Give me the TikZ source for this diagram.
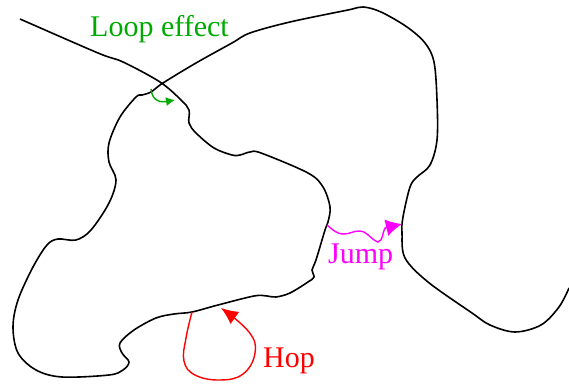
\documentclass[tikz,border=0pt]{standalone}
\usepackage{fontspec}
\setmainfont{Liberation Serif}
\usetikzlibrary{arrows.meta}
\definecolor{loopgreen}{RGB}{0,170,0}
\definecolor{jumpmag}{RGB}{255,0,255}
\definecolor{hopred}{RGB}{255,0,0}

\begin{document}
\begin{tikzpicture}[x=1pt,y=1pt,
    walk/.style={line width=1.6pt,black,line join=round},
    move/.style={line width=1.4pt},
    lbl/.style={font=\fontsize{30}{36}\selectfont,inner sep=0pt,anchor=base west}
  ]
    \useasboundingbox (0,0) rectangle (569,383);

    % Path of the walk
    \draw[walk] plot[smooth,tension=0.55] coordinates {
      (20,364) (98,330) (123,321) (160,301) (181,283) (189,273) (189,260)
      (196,250) (214,235) (232,228) (240,228) (250,231) (261,230) (308,210)
      (323,196) (330,176) (328,161) (325,153) (316,123) (312,113) (314,106)
      (308,101) (290,90) (276,86) (267,87) (254,87) (218,78) (192,71)
      (174,69) (156,65) (134,53) (120,40) (122,30) (129,21) (123,13)
      (109,8) (62,6) (36,13) (18,30) (13,56) (18,83) (33,116) (47,138)
      (58,144) (76,143) (91,153) (109,180) (116,203) (109,221) (109,240)
      (120,266) (136,286) (142,288) (151,291) (163,300) (196,320) (232,340)
      (250,350) (290,361) (348,373) (363,376) (381,371) (407,356) (425,340)
      (434,321) (437,283) (437,243) (430,218) (417,206) (410,196) (403,166)
      (402,150) (405,125) (428,101) (472,70) (490,58) (515,51) (541,58)
      (559,76) (569,95)};

    % Loop effect
    \coordinate (la) at (151,294);
    \coordinate (lb) at (175,283);
    \draw[move,loopgreen,-{Latex[length=9pt,width=9pt]}] (la) .. controls (152,284) and (158,280) .. (lb);
    \node[lbl,text=loopgreen] (loop) at (90,346) {Loop effect};

    % Jump
    \coordinate (ja) at (327,158);
    \coordinate (jb) at (402,159);
    \draw[move,jumpmag,-{Latex[length=16pt,width=17pt]}] (ja)
      to[out=-40,in=180] (344,149) to[out=0,in=180] (359,152)
      to[out=0,in=160] (378,141) to[out=20,in=-120] (385,155) -- (jb);
    \node[lbl,text=jumpmag] (jump) at (328,120) {Jump};

    % Hop
    \coordinate (ha) at (192,71);
    \coordinate (hb) at (221,75);
    \draw[move,hopred,-{Latex[length=17pt,width=15pt]}] plot[smooth,tension=0.7] coordinates {
      (ha) (186,45) (184,22) (195,8) (220,3) (243,9) (255,30) (249,51) (hb)};
    \node[lbl,text=hopred] (hop) at (263,16) {Hop};
  \end{tikzpicture}
\end{document}
